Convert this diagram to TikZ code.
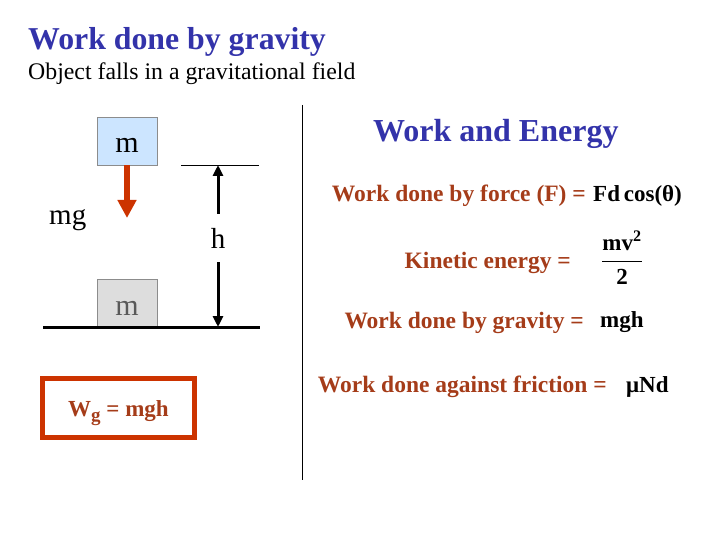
\documentclass[tikz,border=0pt]{standalone}
\usepackage{fontspec}
\setmainfont{Liberation Serif}
\usetikzlibrary{arrows.meta}
\definecolor{titleblue}{RGB}{51,51,170}
\definecolor{brickred}{RGB}{204,51,0}
\definecolor{rust}{RGB}{165,60,25}
\definecolor{skyblock}{RGB}{204,229,255}
\definecolor{greyblock}{RGB}{221,221,221}

\begin{document}
\begin{tikzpicture}[x=1pt,y=-1pt]
  \tikzstyle{block}=[draw=black!45,minimum width=60pt,minimum height=48pt,inner sep=0pt,text height=24pt,text depth=0pt,font=\fontsize{30}{30}\selectfont]
  \tikzstyle{eqlabel}=[anchor=base east,inner sep=0pt,text=rust,font=\bfseries\fontsize{23.5}{23.5}\selectfont]
  \tikzstyle{formula}=[anchor=base west,inner sep=0pt,font=\bfseries\fontsize{23}{23}\selectfont]

  \useasboundingbox (0,0) rectangle (720,540);

  % headings
  \node[anchor=base west,inner sep=0pt,text=titleblue,font=\bfseries\fontsize{31.8}{31.8}\selectfont] (title) at (28,50) {Work done by gravity};
  \node[anchor=base west,inner sep=0pt,font=\fontsize{23.8}{23.8}\selectfont] (subtitle) at (28,80) {Object falls in a gravitational field};
  \node[anchor=base west,inner sep=0pt,text=titleblue,font=\bfseries\fontsize{32}{32}\selectfont] (energy) at (373,142) {Work and Energy};

  % falling mass
  \node[block,fill=skyblock] (m-top) at (127,141) {m};
  \node[block,fill=greyblock,text=black!65] (m-bot) at (127,303) {m};
  \node[inner sep=0pt,anchor=base west,font=\fontsize{29}{29}\selectfont] (mg) at (49,225) {mg};
  \coordinate (fall-end) at (127,218);
  \draw[brickred,line width=6pt,-{Triangle[length=18pt,width=18pt]}] (m-top.south) -- (fall-end);

  % ground and height
  \coordinate (ground-l) at (43,327);
  \coordinate (ground-r) at (260,327);
  \coordinate (top-l) at (181,165);
  \coordinate (top-r) at (259,165);
  \draw[line width=3pt] (ground-l) -- (ground-r);
  \draw[line width=0.8pt] (top-l) -- (top-r);
  \node[minimum height=48pt,inner sep=0pt,font=\fontsize{29}{29}\selectfont] (h) at (218,238) {h};
  \coordinate (h-top) at (218,165);
  \coordinate (h-bot) at (218,327);
  \foreach \to in {h-top,h-bot}
    \draw[line width=3pt,-{Triangle[length=11pt,width=10pt]}] (h) -- (\to);

  \node[draw=brickred,line width=5pt,minimum width=152pt,minimum height=59pt,inner sep=0pt,text height=20pt,text depth=4pt,text=rust,font=\bfseries\fontsize{23}{23}\selectfont] (wg) at (118.5,408) {W\raisebox{-5pt}{\fontsize{19}{19}\selectfont g} = mgh};

  % divider
  \coordinate (div-top) at (302,105);
  \coordinate (div-bot) at (302,480);
  \draw[line width=0.8pt] (div-top) -- (div-bot);

  % equations
  \foreach \name/\x/\y/\txt in {force/586/202/Work done by force (F) =, kinetic/571/268/Kinetic energy =, gravity/584/328/Work done by gravity =, friction/607/392/Work done against friction =}
    \node[eqlabel] (\name) at (\x,\y) {\txt};

  \node[formula] (force-f) at (593,202) {Fd\,cos(θ)};
  \node[inner sep=0pt,font=\bfseries\fontsize{23}{23}\selectfont] (kinetic-f) at (622,258) {$\displaystyle\frac{\mbox{\bfseries mv\textsuperscript{2}}}{\mbox{\bfseries 2}}$};
  \node[formula] (gravity-f) at (600,327) {mgh};
  \node[formula] (friction-f) at (626,392) {μNd};
\end{tikzpicture}
\end{document}
